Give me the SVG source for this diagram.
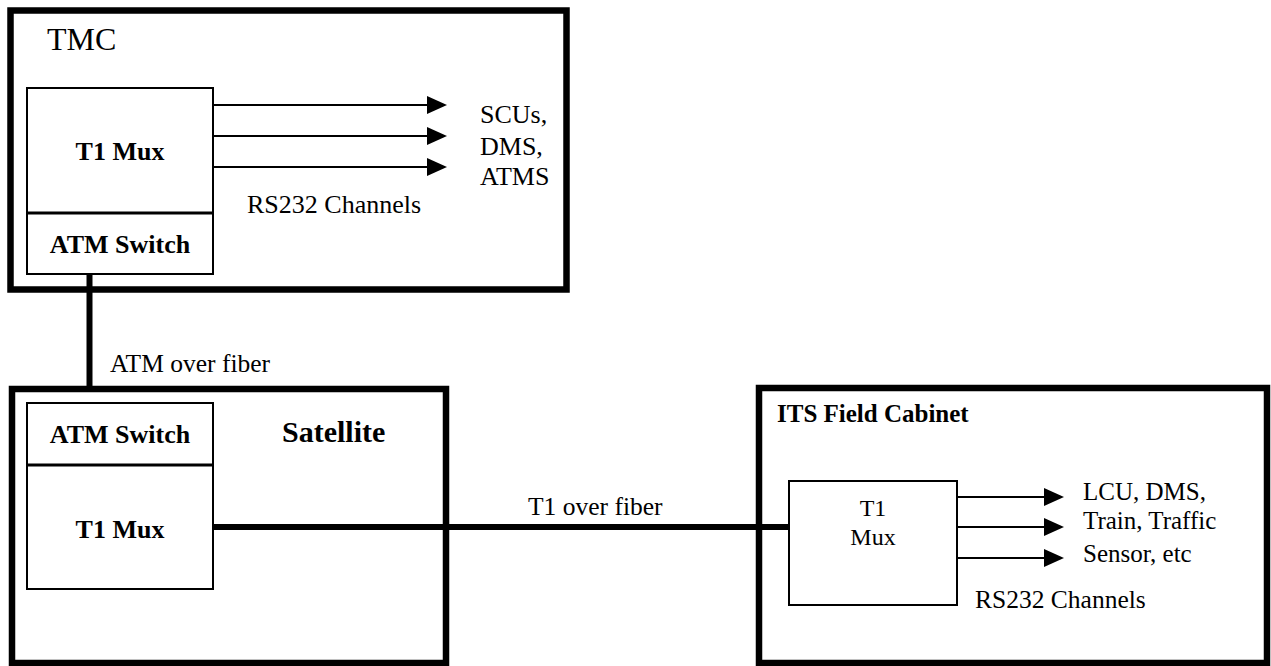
<svg xmlns="http://www.w3.org/2000/svg" width="1271" height="666" viewBox="0 0 1271 666">
<style>
  text { font-family: "Liberation Serif", "Times New Roman", serif; fill: #000; }
  .b { font-weight: bold; }
  .outer { fill: none; stroke: #000; stroke-width: 6.5; }
  .inner { fill: none; stroke: #000; stroke-width: 2; }
  .div { stroke: #000; stroke-width: 3; }
  .link { stroke: #000; stroke-width: 6; fill: none; }
  .ch { stroke: #000; stroke-width: 2; fill: none; marker-end: url(#arr); }
</style>
<defs>
  <marker id="arr" markerUnits="userSpaceOnUse" markerWidth="20" markerHeight="18" refX="2" refY="9" orient="auto">
    <path d="M0,0 L20,9 L0,18 Z" fill="#000"/>
  </marker>
</defs>
<rect width="1271" height="666" fill="#fff"/>

<g id="connectors">
  <line class="link" x1="89.5" y1="275" x2="89.5" y2="389"/>
  <line class="link" x1="213" y1="527" x2="789" y2="527"/>
  <line class="ch" x1="213" y1="105" x2="429" y2="105"/>
  <line class="ch" x1="213" y1="136" x2="429" y2="136"/>
  <line class="ch" x1="213" y1="167" x2="429" y2="167"/>
  <line class="ch" x1="957" y1="497" x2="1046" y2="497"/>
  <line class="ch" x1="957" y1="527" x2="1046" y2="527"/>
  <line class="ch" x1="957" y1="558" x2="1046" y2="558"/>
</g>

<g id="tmc">
  <rect class="outer" x="10.5" y="10.5" width="556" height="279"/>
  <text x="47" y="50" font-size="32">TMC</text>
  <g id="tmc-t1mux">
    <rect class="inner" x="27" y="88" width="186" height="186"/>
    <text class="b" x="120" y="160" font-size="26" text-anchor="middle">T1 Mux</text>
  </g>
  <g id="tmc-atm">
    <line class="div" x1="27" y1="213" x2="213" y2="213"/>
    <text class="b" x="120" y="253" font-size="26" text-anchor="middle">ATM Switch</text>
  </g>
  <text x="247" y="213" font-size="26">RS232 Channels</text>
  <text x="480" y="123" font-size="26">SCUs,</text>
  <text x="480" y="155" font-size="26">DMS,</text>
  <text x="480" y="185" font-size="26">ATMS</text>
</g>

<text x="110" y="372" font-size="25.5">ATM over fiber</text>
<text x="528" y="515" font-size="25.5">T1 over fiber</text>

<g id="satellite">
  <rect class="outer" x="12" y="389" width="434" height="274"/>
  <text class="b" x="282" y="442" font-size="30">Satellite</text>
  <g id="sat-atm">
    <rect class="inner" x="27" y="403" width="186" height="186"/>
    <text class="b" x="120" y="443" font-size="26" text-anchor="middle">ATM Switch</text>
  </g>
  <g id="sat-t1mux">
    <line class="div" x1="27" y1="465" x2="213" y2="465"/>
    <text class="b" x="120" y="538" font-size="26" text-anchor="middle">T1 Mux</text>
  </g>
</g>

<g id="its">
  <rect class="outer" x="759" y="388" width="508" height="275"/>
  <text class="b" x="777" y="422" font-size="25">ITS Field Cabinet</text>
  <g id="its-t1mux">
    <rect class="inner" x="789" y="481" width="168" height="124"/>
    <text x="873" y="516" font-size="24" text-anchor="middle">T1</text>
    <text x="873" y="545" font-size="24" text-anchor="middle">Mux</text>
  </g>
  <text x="1083" y="500" font-size="25">LCU, DMS,</text>
  <text x="1083" y="529" font-size="25">Train, Traffic</text>
  <text x="1083" y="562" font-size="25">Sensor, etc</text>
  <text x="975" y="608" font-size="25.5">RS232 Channels</text>
</g>
</svg>
